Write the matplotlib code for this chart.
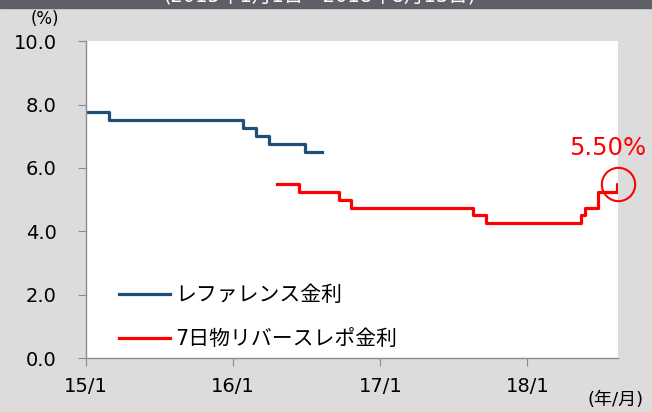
import matplotlib
matplotlib.use("Agg")
import matplotlib.pyplot as plt
import pandas as pd

plt.rcParams["font.family"] = ["DejaVu Sans", "Noto Sans CJK JP"]

# reference rate (step series)
ref_dates = ["2015-01-01", "2015-02-26", "2016-01-25", "2016-02-27", "2016-03-31",
             "2016-06-28", "2016-08-10"]
ref_values = [7.75, 7.50, 7.25, 7.00, 6.75, 6.50, 6.50]

# 7-day reverse repo rate (step series)
rr_dates = ["2016-04-19", "2016-06-13", "2016-09-20", "2016-10-20", "2017-08-18",
            "2017-09-20", "2018-05-15", "2018-05-24", "2018-06-25", "2018-08-12",
            "2018-08-13"]
rr_values = [5.50, 5.25, 5.00, 4.75, 4.50, 4.25, 4.50, 4.75, 5.25, 5.50, 5.50]

ref_label = "レファレンス金利"
rr_label = "7日物リバースレポ金利"
title = "(2015年1月1日～2018年8月13日)"
x_ticks = ["2015-01-01", "2016-01-01", "2017-01-01", "2018-01-01"]
x_ticklabels = ["15/1", "16/1", "17/1", "18/1"]
y_ticks = [0, 2, 4, 6, 8, 10]
last_label = "5.50%"

bg = "#dcdcdc"
blue = "#1f4e79"
red = "#ff0000"
axis_gray = "#8c8c8c"

fig = plt.figure(figsize=(6.52, 4.12), dpi=100, facecolor=bg)
ax = fig.add_axes([0.1319, 0.131, 0.816, 0.769])
ax.set_facecolor("white")

ax.step(pd.to_datetime(ref_dates), ref_values, where="post", color=blue, lw=2.3,
        label=ref_label)
ax.step(pd.to_datetime(rr_dates), rr_values, where="post", color=red, lw=2.3,
        label=rr_label)

ax.set_xlim(pd.Timestamp("2015-01-01"), pd.Timestamp("2018-08-14"))
ax.set_ylim(0, 10)
ax.set_yticks(y_ticks)
ax.set_yticklabels([f"{v:.1f}" for v in y_ticks])
ax.set_xticks(pd.to_datetime(x_ticks))
ax.set_xticklabels(x_ticklabels)

for side in ["top", "right"]:
    ax.spines[side].set_visible(False)
for side in ["left", "bottom"]:
    ax.spines[side].set_color(axis_gray)
    ax.spines[side].set_linewidth(1.0)
ax.tick_params(axis="y", direction="out", length=6, color=axis_gray, labelsize=14,
               pad=15)
ax.tick_params(axis="x", direction="out", length=6, color=axis_gray, labelsize=14,
               pad=8)

# mark the latest value
last_x = pd.Timestamp(rr_dates[-1])
last_y = rr_values[-1]
ax.plot([last_x], [last_y], marker="o", ms=24, mfc="none", mec=red, mew=1.5,
        clip_on=False)
ax.annotate(last_label, (last_x, last_y), xytext=(-7, 26), textcoords="offset points",
            ha="center", va="center", color=red, fontsize=17.5)

leg = ax.legend(loc="lower left", bbox_to_anchor=(0.026, -0.032), frameon=False,
                fontsize=15, handlelength=2.45, handletextpad=0.25, labelspacing=1.15)

fig.text(45 / 652, 1 - 19 / 412, "(%)", ha="center", va="center", fontsize=12)
fig.text(616 / 652, 1 - 400 / 412, "(年/月)", ha="center", va="center", fontsize=13)

# dark title strip at the very top (text cut off by the figure edge)
fig.patches.append(plt.Rectangle((0, 1 - 8 / 412), 1, 8 / 412, transform=fig.transFigure,
                                 color="#5f6066", zorder=0))
fig.text(320 / 652, 1 - 5 / 412, title, ha="center", va="bottom", color="white",
         fontsize=14)

fig.savefig("out.png", dpi=100, facecolor=bg)
